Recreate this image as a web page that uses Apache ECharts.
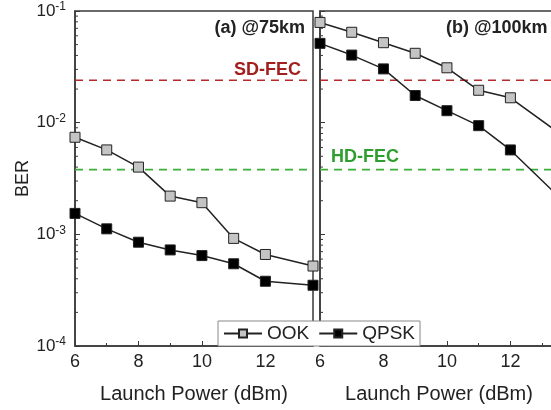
<!DOCTYPE html>
<html>
<head>
    <meta charset="utf-8">
    <title>BER vs Launch Power</title>
    <script src="https://cdn.jsdelivr.net/npm/echarts@6/dist/echarts.min.js"></script>
    <style type="text/css">
        html, body { margin: 0; padding: 0; background: #fff; }
        #chart { width: 551px; height: 410px; }
    </style>
</head>
<body>
    <div id="chart"></div>
    <script type="text/javascript">
        // launch power (dBm)
        var power = [6, 7, 8, 9, 10, 11, 12, 13.5];
        // (a) @75km
        var ook75 = [7.4e-3, 5.7e-3, 4.0e-3, 2.2e-3, 1.92e-3, 9.2e-4, 6.6e-4, 5.2e-4];
        var qpsk75 = [1.54e-3, 1.12e-3, 8.5e-4, 7.25e-4, 6.45e-4, 5.45e-4, 3.8e-4, 3.5e-4];
        // (b) @100km
        var ook100 = [7.9e-2, 6.45e-2, 5.2e-2, 4.18e-2, 3.1e-2, 1.95e-2, 1.67e-2, 8.2e-3];
        var qpsk100 = [5.13e-2, 4.03e-2, 3.03e-2, 1.75e-2, 1.28e-2, 9.4e-3, 5.7e-3, 2.2e-3];
        // FEC thresholds
        var sdFec = 2.4e-2;
        var hdFec = 3.8e-3;
        var xRange = [6, 13.5];
        // log minor ticks
        var minorY = [];
        [1e-4, 1e-3, 1e-2].forEach(function (d) {
            for (var k = 2; k <= 9; k++) minorY.push(k * d);
        });

        var font = 'Liberation Sans, Arial, sans-serif';
        var axisColor = '#3a3a3a';

        function pairs(ys) {
            return power.map(function (x, i) { return [x, ys[i]]; });
        }

        function xAxisOpt(idx) {
            return {
                type: 'value', gridIndex: idx, min: xRange[0], max: xRange[1], interval: 2,
                name: 'Launch Power (dBm)', nameLocation: 'middle', nameGap: 38,
                nameTextStyle: { fontSize: 20, color: '#222', fontFamily: font },
                axisLine: { lineStyle: { color: axisColor, width: 1.5 } },
                axisTick: { inside: true, length: 5, lineStyle: { color: axisColor } },
                minorTick: { show: true, splitNumber: 2, length: 3, lineStyle: { color: axisColor } },
                axisLabel: { fontSize: 18, color: '#222', fontFamily: font, margin: 7, showMaxLabel: false },
                splitLine: { show: false }
            };
        }

        function yAxisOpt(idx) {
            return {
                type: 'log', logBase: 10, gridIndex: idx, min: 1e-4, max: 1e-1, interval: 1,
                name: idx === 0 ? 'BER' : '', nameLocation: 'middle', nameGap: 42, nameRotate: 90,
                nameTextStyle: { fontSize: 18, color: '#222', fontFamily: font },
                axisLine: { show: true, lineStyle: { color: axisColor, width: 1.5 } },
                axisTick: { inside: true, length: 5, lineStyle: { color: axisColor } },
                axisLabel: {
                    show: idx === 0, margin: 9, fontFamily: font,
                    formatter: function (v) {
                        var e = Math.round(Math.log(v) / Math.LN10);
                        return '{b|10}{s|' + e + '}';
                    },
                    rich: {
                        b: { fontSize: 17, color: '#222', fontFamily: font, lineHeight: 20 },
                        s: { fontSize: 12, color: '#222', fontFamily: font, verticalAlign: 'top', padding: [0, 0, 8, 0] }
                    }
                },
                splitLine: { show: false }
            };
        }

        function fecSeries(value, color, idx) {
            return {
                type: 'line', xAxisIndex: idx, yAxisIndex: idx, silent: true,
                data: [[xRange[0], value], [xRange[1], value]],
                symbol: 'none', z: 1,
                lineStyle: { color: color, type: [8, 6], width: 1.6 }
            };
        }

        function dataSeries(name, ys, idx, fill) {
            return {
                name: name, type: 'line', xAxisIndex: idx, yAxisIndex: idx,
                data: pairs(ys), symbol: 'rect', symbolSize: 10, z: 3,
                lineStyle: { color: '#222', width: 1.5 },
                itemStyle: { color: fill, borderColor: '#222', borderWidth: 1 },
                emphasis: { disabled: true }
            };
        }

        function minorSeries(idx) {
            return {
                type: 'custom', xAxisIndex: idx, yAxisIndex: idx, silent: true,
                data: minorY.map(function (v) { return [xRange[0], v]; }),
                renderItem: function (params, api) {
                    var p = api.coord([api.value(0), api.value(1)]);
                    return {
                        type: 'line',
                        shape: { x1: p[0], y1: p[1], x2: p[0] + 3, y2: p[1] },
                        style: { stroke: axisColor, lineWidth: 1 }
                    };
                }
            };
        }

        var option = {
            animation: false,
            grid: [
                { left: 75, top: 11, width: 238, height: 335, outerBoundsMode: 'none', show: true, borderColor: axisColor, borderWidth: 1.5 },
                { left: 320, top: 11, width: 238, height: 335, outerBoundsMode: 'none', show: true, borderColor: axisColor, borderWidth: 1.5 }
            ],
            xAxis: [xAxisOpt(0), xAxisOpt(1)],
            yAxis: [yAxisOpt(0), yAxisOpt(1)],
            legend: {
                data: ['OOK', 'QPSK'], left: 218, top: 321,
                itemWidth: 38, itemHeight: 10, itemGap: 9,
                padding: [3, 5, 3, 5],
                backgroundColor: '#fff', borderColor: '#888', borderWidth: 1,
                textStyle: { fontSize: 19, color: '#222', fontFamily: font },
                selectedMode: false
            },
            graphic: [
                { type: 'text', x: 305, y: 28, style: { text: '(a) @75km', align: 'right', verticalAlign: 'middle', fontSize: 18, fontWeight: 'bold', fill: '#222', fontFamily: font } },
                { type: 'text', x: 446, y: 28, style: { text: '(b) @100km', align: 'left', verticalAlign: 'middle', fontSize: 18, fontWeight: 'bold', fill: '#222', fontFamily: font } },
                { type: 'text', x: 301, y: 70, style: { text: 'SD-FEC', align: 'right', verticalAlign: 'middle', fontSize: 18, fontWeight: 'bold', fill: '#a31f1f', fontFamily: font } },
                { type: 'text', x: 331, y: 157, style: { text: 'HD-FEC', align: 'left', verticalAlign: 'middle', fontSize: 18, fontWeight: 'bold', fill: '#2e9e2e', fontFamily: font } }
            ],
            series: [
                fecSeries(sdFec, '#b52a2a', 0),
                fecSeries(hdFec, '#3cae3c', 0),
                fecSeries(sdFec, '#b52a2a', 1),
                fecSeries(hdFec, '#3cae3c', 1),
                dataSeries('OOK', ook75, 0, '#c4c4c4'),
                dataSeries('QPSK', qpsk75, 0, '#000'),
                dataSeries('OOK', ook100, 1, '#c4c4c4'),
                dataSeries('QPSK', qpsk100, 1, '#000'),
                minorSeries(0),
                minorSeries(1)
            ]
        };

        var chart = echarts.init(document.getElementById('chart'));
        chart.setOption(option);
    </script>
</body>
</html>
